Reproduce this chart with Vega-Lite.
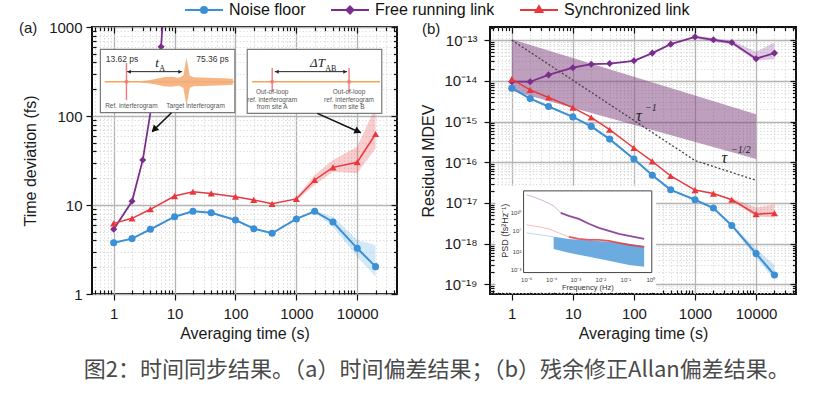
{
"$schema": "https://vega.github.io/schema/vega-lite/v6.json",
"padding": {"left": 18, "top": 2, "right": 4, "bottom": 4},
"bounds": "flush",
"spacing": 93,
"config": {
  "font": "Liberation Sans",
  "view": {"stroke": "#111", "strokeWidth": 2},
  "axis": {"labelFont": "Liberation Sans", "labelFontSize": 15, "labelColor": "#1a1a1a", "titleFont": "Liberation Sans", "titleFontSize": 16, "titleFontWeight": "normal", "titleColor": "#1a1a1a", "domain": false, "tickColor": "#111", "tickWidth": 1.2},
  "title": {"font": "Liberation Sans", "fontWeight": "normal", "fontSize": 15, "color": "#1a1a1a"},
  "text": {"font": "Liberation Sans"}
},
"title": {"text": "图2：时间同步结果。（a）时间偏差结果；（b）残余修正Allan偏差结果。", "orient": "bottom", "anchor": "middle", "font": "Noto Sans CJK SC", "fontSize": 22, "fontWeight": "normal", "color": "#4a4a4a", "offset": 18, "dx": 29},
"datasets": {
  "aLines": [
    {"s":"Noise floor","tau":1,"v":3.77},{"s":"Noise floor","tau":2,"v":4.19},{"s":"Noise floor","tau":4,"v":5.33},{"s":"Noise floor","tau":10,"v":7.39},{"s":"Noise floor","tau":20,"v":8.5},{"s":"Noise floor","tau":40,"v":8.18},{"s":"Noise floor","tau":100,"v":6.78},{"s":"Noise floor","tau":200,"v":5.42},{"s":"Noise floor","tau":400,"v":4.81},{"s":"Noise floor","tau":1000,"v":6.97},{"s":"Noise floor","tau":2000,"v":8.5},{"s":"Noise floor","tau":4000,"v":6.44},{"s":"Noise floor","tau":10000,"v":3.26},{"s":"Noise floor","tau":20000,"v":2.03},
    {"s":"Free running link","tau":1,"v":5.33},{"s":"Free running link","tau":2,"v":11.0},{"s":"Free running link","tau":3,"v":32},{"s":"Free running link","tau":6,"v":600},{"s":"Free running link","tau":10,"v":100000},
    {"s":"Synchronized link","tau":1,"v":6.22},{"s":"Synchronized link","tau":2,"v":7.08},{"s":"Synchronized link","tau":4,"v":8.95},{"s":"Synchronized link","tau":10,"v":12.6},{"s":"Synchronized link","tau":20,"v":14.1},{"s":"Synchronized link","tau":40,"v":13.5},{"s":"Synchronized link","tau":100,"v":12.4},{"s":"Synchronized link","tau":200,"v":11.4},{"s":"Synchronized link","tau":400,"v":10.3},{"s":"Synchronized link","tau":1000,"v":11.7},{"s":"Synchronized link","tau":2000,"v":19.1},{"s":"Synchronized link","tau":4000,"v":26.5},{"s":"Synchronized link","tau":10000,"v":30.2},{"s":"Synchronized link","tau":20000,"v":62.8}
  ],
  "aBand": [
    {"s":"Synchronized link","tau":1000,"lo":11.2,"hi":12.2},{"s":"Synchronized link","tau":2000,"lo":16.8,"hi":21.7},{"s":"Synchronized link","tau":4000,"lo":23.7,"hi":32},{"s":"Synchronized link","tau":10000,"lo":22.7,"hi":45},{"s":"Synchronized link","tau":20000,"lo":43,"hi":126},
    {"s":"Noise floor","tau":2000,"lo":8.3,"hi":8.7},{"s":"Noise floor","tau":4000,"lo":5.7,"hi":7.4},{"s":"Noise floor","tau":10000,"lo":2.6,"hi":4.05},{"s":"Noise floor","tau":20000,"lo":1.56,"hi":3.56}
  ],
  "aBox": [{"x1":0.604,"x2":97.7,"y1":109,"y2":561},{"x1":156,"x2":25300,"y1":107,"y2":561}],
  "aBase": [{"x1":0.711,"x2":94.2,"y":242.9},{"x1":186,"x2":23700,"y":242.9}],
  "aSpike": [{"x":1.62,"y1":151,"y2":394},{"x":401,"y1":186,"y2":346},{"x":7330,"y1":186,"y2":346}],
  "aSpikeDot": [{"x":1.62,"y":242.9},{"x":401,"y":242.9},{"x":7330,"y":242.9}],
  "aBlob": [
    {"x":2.58,"lo":239.8,"hi":246.0},{"x":3.76,"lo":233.6,"hi":252.5},{"x":5.10,"lo":225.0,"hi":262.2},{"x":6.64,"lo":216.4,"hi":272.6},{"x":8.66,"lo":213.6,"hi":276.2},{"x":11.7,"lo":219.2,"hi":269.1},{"x":13.9,"lo":208.2,"hi":283.4},{"x":15.7,"lo":130.4,"hi":452.4},{"x":17.8,"lo":208.2,"hi":283.4},{"x":20.7,"lo":216.4,"hi":272.6},{"x":36.5,"lo":219.2,"hi":269.1},{"x":64.4,"lo":222.1,"hi":265.7},{"x":90.6,"lo":225.0,"hi":262.2}
  ],
  "aSmallLab": [
    {"x":1.95,"y":128,"t":"Ref. interferogram"},{"x":22.1,"y":128,"t":"Target interferogram"},
    {"x":401,"y":187.5,"t":"Out-of-loop"},{"x":401,"y":153,"t":"ref. interferogram"},{"x":401,"y":125,"t":"from site A"},
    {"x":7330,"y":187.5,"t":"Out-of-loop"},{"x":7330,"y":153,"t":"ref. interferogram"},{"x":7330,"y":125,"t":"from site B"}
  ],
  "aPsL": [{"x":0.739,"y":433,"t":"13.62 ps"}],
  "aPsR": [{"x":77.9,"y":433,"t":"75.36 ps"}],
  "aSym": [{"x":5.5,"y":394,"t":"t"},{"x":2953,"y":389,"t":"ΔT"}],
  "aSub": [{"x":5.6,"y":340,"t":"A"},{"x":2980,"y":340,"t":"AB"}],
  "aDbl": [{"x1":1.66,"x2":13.3,"y":315},{"x1":444,"x2":6800,"y":315}],
  "aHeadL": [{"x":1.79,"y":315},{"x":480,"y":315}],
  "aHeadR": [{"x":12.3,"y":315},{"x":6300,"y":315}],
  "aArrow": [{"x1":8.89,"y1":109,"x2":4.27,"y2":66.7},{"x1":2207,"y1":107,"x2":11420,"y2":64.9}],
  "aHead1": [{"x":4.62,"y":70.3}],
  "aHead2": [{"x":10300,"y":67.1}],
  "bLines": [
    {"s":"Noise floor","tau":1,"v":6.6e-15},{"s":"Noise floor","tau":2,"v":3.67e-15},{"s":"Noise floor","tau":4,"v":2.34e-15},{"s":"Noise floor","tau":10,"v":1.3e-15},{"s":"Noise floor","tau":20,"v":7.6e-16},{"s":"Noise floor","tau":40,"v":3.7e-16},{"s":"Noise floor","tau":100,"v":1.2e-16},{"s":"Noise floor","tau":200,"v":4.8e-17},{"s":"Noise floor","tau":400,"v":2.1e-17},{"s":"Noise floor","tau":1000,"v":1.2e-17},{"s":"Noise floor","tau":2000,"v":7.5e-18},{"s":"Noise floor","tau":4000,"v":2.8e-18},{"s":"Noise floor","tau":10000,"v":5.7e-19},{"s":"Noise floor","tau":20000,"v":1.7e-19},
    {"s":"Free running link","tau":1,"v":9.5e-15},{"s":"Free running link","tau":2,"v":9.5e-15},{"s":"Free running link","tau":4,"v":1.4e-14},{"s":"Free running link","tau":10,"v":2.1e-14},{"s":"Free running link","tau":20,"v":2.56e-14},{"s":"Free running link","tau":40,"v":2.66e-14},{"s":"Free running link","tau":100,"v":3.1e-14},{"s":"Free running link","tau":200,"v":4.8e-14},{"s":"Free running link","tau":400,"v":7.96e-14},{"s":"Free running link","tau":1000,"v":1.2e-13},{"s":"Free running link","tau":2000,"v":1.02e-13},{"s":"Free running link","tau":4000,"v":8.7e-14},{"s":"Free running link","tau":10000,"v":3.5e-14},{"s":"Free running link","tau":20000,"v":4.8e-14},
    {"s":"Synchronized link","tau":1,"v":1.1e-14},{"s":"Synchronized link","tau":2,"v":6.0e-15},{"s":"Synchronized link","tau":4,"v":3.9e-15},{"s":"Synchronized link","tau":10,"v":2.2e-15},{"s":"Synchronized link","tau":20,"v":1.26e-15},{"s":"Synchronized link","tau":40,"v":6.3e-16},{"s":"Synchronized link","tau":100,"v":2.24e-16},{"s":"Synchronized link","tau":200,"v":1.05e-16},{"s":"Synchronized link","tau":400,"v":4.6e-17},{"s":"Synchronized link","tau":1000,"v":2.07e-17},{"s":"Synchronized link","tau":2000,"v":1.7e-17},{"s":"Synchronized link","tau":4000,"v":1.2e-17},{"s":"Synchronized link","tau":10000,"v":5.3e-18},{"s":"Synchronized link","tau":20000,"v":5.6e-18}
  ],
  "bBand": [
    {"s":"Free running link","tau":1000,"lo":1.1e-13,"hi":1.3e-13},{"s":"Free running link","tau":2000,"lo":9e-14,"hi":1.12e-13},{"s":"Free running link","tau":4000,"lo":7.8e-14,"hi":9.6e-14},{"s":"Free running link","tau":10000,"lo":3.1e-14,"hi":5.2e-14},{"s":"Free running link","tau":20000,"lo":3.4e-14,"hi":8.7e-14},
    {"s":"Synchronized link","tau":4000,"lo":1.1e-17,"hi":1.3e-17},{"s":"Synchronized link","tau":10000,"lo":4.6e-18,"hi":7.7e-18},{"s":"Synchronized link","tau":20000,"lo":4.4e-18,"hi":9.3e-18},
    {"s":"Noise floor","tau":4000,"lo":2.6e-18,"hi":3.0e-18},{"s":"Noise floor","tau":10000,"lo":4.5e-19,"hi":7.5e-19},{"s":"Noise floor","tau":20000,"lo":1.3e-19,"hi":3.0e-19}
  ],
  "bBig": [{"tau":1,"lo":5.7e-15,"hi":1.05e-13},{"tau":10000,"lo":1.2e-16,"hi":1.5e-15}],
  "bGuide": [{"tau":1,"v":1e-13},{"tau":1000,"v":1.1e-16},{"tau":10000,"v":3.6e-17}],
  "bTau": [{"x":108,"y":1.38e-15,"t":"τ"},{"x":2710,"y":1.28e-16,"t":"τ"}],
  "bTauSup": [{"x":152,"y":2.17e-15,"t":"−1"},{"x":3900,"y":2.02e-16,"t":"−1/2"}],
  "bInsetBg": [{"x1":0.54,"x2":231,"y1":6.2e-20,"y2":2.63e-17}],
  "bInsetFrame": [{"x1":1.56,"x2":196,"y1":1.95e-19,"y2":1.98e-17}],
  "bPsdFaint": [
    {"s":"Free running link","tau":1.75,"v":1.58e-17},{"s":"Free running link","tau":2.27,"v":1.41e-17},{"s":"Free running link","tau":3.32,"v":1.12e-17},{"s":"Free running link","tau":4.85,"v":8.5e-18},{"s":"Free running link","tau":6.32,"v":5.7e-18},
    {"s":"Synchronized link","tau":1.75,"v":2.9e-18},{"s":"Synchronized link","tau":2.75,"v":2.59e-18},{"s":"Synchronized link","tau":4.02,"v":2.31e-18},{"s":"Synchronized link","tau":5.86,"v":1.84e-18},{"s":"Synchronized link","tau":8.57,"v":1.47e-18},
    {"s":"Noise floor","tau":1.75,"v":1.84e-18},{"s":"Noise floor","tau":3.32,"v":1.6e-18},{"s":"Noise floor","tau":4.85,"v":1.47e-18}
  ],
  "bPsdBand": [{"tau":4.85,"lo":7.4e-19,"hi":1.47e-18},{"tau":8.57,"lo":5.94e-19,"hi":1.31e-18},{"tau":18.3,"lo":4.74e-19,"hi":1.2e-18},{"tau":38.9,"lo":3.78e-19,"hi":1.11e-18},{"tau":83,"lo":3.0e-19,"hi":9.9e-19},{"tau":147,"lo":2.7e-19,"hi":8.8e-19}],
  "bPsdDark": [
    {"s":"Synchronized link","tau":8.57,"v":1.47e-18},{"s":"Synchronized link","tau":12.5,"v":1.31e-18},{"s":"Synchronized link","tau":18.3,"v":1.24e-18},{"s":"Synchronized link","tau":26.7,"v":1.24e-18},{"s":"Synchronized link","tau":38.9,"v":1.17e-18},{"s":"Synchronized link","tau":56.9,"v":1.05e-18},{"s":"Synchronized link","tau":83,"v":9.3e-19},{"s":"Synchronized link","tau":147,"v":8.3e-19},
    {"s":"Free running link","tau":6.32,"v":5.7e-18},{"s":"Free running link","tau":8.57,"v":4.8e-18},{"s":"Free running link","tau":12.5,"v":4.07e-18},{"s":"Free running link","tau":18.3,"v":3.08e-18},{"s":"Free running link","tau":26.7,"v":2.45e-18},{"s":"Free running link","tau":38.9,"v":2.07e-18},{"s":"Free running link","tau":56.9,"v":1.74e-18},{"s":"Free running link","tau":83,"v":1.55e-18},{"s":"Free running link","tau":147,"v":1.31e-18}
  ],
  "bInsetXLab": [{"x":1.75,"y":1.29e-19,"t":"10⁻⁵"},{"x":4.5,"y":1.29e-19,"t":"10⁻⁴"},{"x":11.2,"y":1.29e-19,"t":"10⁻³"},{"x":28.8,"y":1.29e-19,"t":"10⁻²"},{"x":74,"y":1.29e-19,"t":"10⁻¹"},{"x":189,"y":1.29e-19,"t":"10⁰"}],
  "bInsetYLab": [{"x":1.44,"y":5.8e-18,"t":"10¹⁰"},{"x":1.44,"y":2.07e-18,"t":"10⁷"},{"x":1.44,"y":6.3e-19,"t":"10²"},{"x":1.44,"y":2.3e-19,"t":"10⁻³"}],
  "bInsetTitle": [{"x":17.6,"y":8.2e-20,"t":"Frequency (Hz)"}],
  "bInsetYTitle": [{"x":0.78,"y":2.07e-18,"t":"PSD (fs²Hz⁻¹)"}]
},
"hconcat": [
{
  "width": 305, "height": 267,
  "title": {"text": "(a)", "anchor": "start", "frame": "group", "orient": "top", "baseline": "alphabetic", "offset": 0, "dx": -73, "dy": 28, "fontSize": 15, "fontWeight": "normal"},
  "layer": [
    {"layer": [
      {"data": {"name": "aBand"}, "transform": [{"filter": "datum.s==='Synchronized link'"}], "mark": {"type": "area", "color": "#e8383d", "opacity": 0.25},
       "encoding": {
         "x": {"field": "tau", "type": "quantitative", "scale": {"type": "log", "domain": [0.44, 45000], "nice": false},
               "axis": {"orient": "bottom", "values": [0.5,0.6,0.7,0.8,0.9,1,2,3,4,5,6,7,8,9,10,20,30,40,50,60,70,80,90,100,200,300,400,500,600,700,800,900,1000,2000,3000,4000,5000,6000,7000,8000,9000,10000,20000,30000,40000],
                        "title": "Averaging time (s)", "labelExpr": "abs(log(datum.value)/LN10-round(log(datum.value)/LN10))<0.01 ? format(datum.value,'d') : ''",
                        "labelOverlap": false, "labelFlush": false, "labelPadding": 6, "titlePadding": 4, "grid": true,
                        "gridColor": {"condition": {"test": "abs(log(datum.value)/LN10-round(log(datum.value)/LN10))<0.01", "value": "#b4b4b4"}, "value": "#d6d6d6"},
                        "gridDash": {"condition": {"test": "abs(log(datum.value)/LN10-round(log(datum.value)/LN10))<0.01", "value": []}, "value": [1.5, 2]},
                        "gridWidth": {"condition": {"test": "abs(log(datum.value)/LN10-round(log(datum.value)/LN10))<0.01", "value": 1.3}, "value": 0.8},
                        "tickSize": {"condition": {"test": "abs(log(datum.value)/LN10-round(log(datum.value)/LN10))<0.01", "value": 6}, "value": -4}}},
         "y": {"field": "lo", "type": "quantitative", "scale": {"type": "log", "domain": [1, 1000], "nice": false},
               "axis": {"orient": "left", "values": [1,2,3,4,5,6,7,8,9,10,20,30,40,50,60,70,80,90,100,200,300,400,500,600,700,800,900,1000],
                        "title": "Time deviation (fs)", "labelExpr": "abs(log(datum.value)/LN10-round(log(datum.value)/LN10))<0.01 ? format(datum.value,'d') : ''",
                        "labelOverlap": false, "labelFlush": false, "labelPadding": 4, "titlePadding": 10, "grid": true,
                        "gridColor": {"condition": {"test": "abs(log(datum.value)/LN10-round(log(datum.value)/LN10))<0.01", "value": "#b4b4b4"}, "value": "#d6d6d6"},
                        "gridDash": {"condition": {"test": "abs(log(datum.value)/LN10-round(log(datum.value)/LN10))<0.01", "value": []}, "value": [1.5, 2]},
                        "gridWidth": {"condition": {"test": "abs(log(datum.value)/LN10-round(log(datum.value)/LN10))<0.01", "value": 1.3}, "value": 0.8},
                        "tickSize": {"condition": {"test": "abs(log(datum.value)/LN10-round(log(datum.value)/LN10))<0.01", "value": 6}, "value": -4}}},
         "y2": {"field": "hi"}
       }},
      {"data": {"name": "aBand"}, "transform": [{"filter": "datum.s==='Noise floor'"}], "mark": {"type": "area", "color": "#3a9ad9", "opacity": 0.22},
       "encoding": {"x": {"field": "tau", "type": "quantitative"}, "y": {"field": "lo", "type": "quantitative"}, "y2": {"field": "hi"}}},
      {"data": {"name": "aLines"}, "mark": {"type": "line", "clip": true},
       "encoding": {
         "x": {"field": "tau", "type": "quantitative"},
         "y": {"field": "v", "type": "quantitative"},
         "color": {"field": "s", "type": "nominal", "scale": {"domain": ["Noise floor", "Free running link", "Synchronized link"], "range": ["#3a8fd5", "#7b2d8e", "#e8383d"]},
                   "legend": {"orient": "none", "legendX": 104, "legendY": -25, "direction": "horizontal", "title": null, "padding": 0,
                              "labelFont": "Liberation Sans", "labelFontSize": 16, "labelColor": "#111", "labelOffset": 17, "columnPadding": 21, "symbolSize": 100, "labelBaseline": "middle",
                              "encode": {"symbols": {"update": {
                                "shape": {"signal": "datum.value==='Noise floor' ? 'M-3.8,0H3.8M0.6,0A0.6,0.6,0,1,1,-0.6,0A0.6,0.6,0,1,1,0.6,0Z' : datum.value==='Free running link' ? 'M-3.8,0H3.8M0,-0.7L0.7,0L0,0.7L-0.7,0Z' : 'M-3.8,0H3.8M0,-0.75L0.68,0.42L-0.68,0.42Z'"},
                                "fill": {"signal": "datum.value==='Noise floor' ? '#3a8fd5' : datum.value==='Free running link' ? '#7b2d8e' : '#e8383d'"},
                                "stroke": {"signal": "datum.value==='Noise floor' ? '#3a8fd5' : datum.value==='Free running link' ? '#7b2d8e' : '#e8383d'"},
                                "strokeWidth": {"value": 2}, "opacity": {"value": 1}}}}}},
         "strokeWidth": {"field": "s", "type": "nominal", "scale": {"domain": ["Synchronized link", "Free running link", "Noise floor"], "range": [1.5, 2, 3]}, "legend": null}
       }},
      {"data": {"name": "aLines"}, "mark": {"type": "point", "filled": true, "clip": true, "size": 50, "opacity": 1},
       "encoding": {
         "x": {"field": "tau", "type": "quantitative"},
         "y": {"field": "v", "type": "quantitative"},
         "fill": {"field": "s", "type": "nominal", "scale": {"domain": ["Synchronized link", "Free running link", "Noise floor"], "range": ["#e8383d", "#7b2d8e", "#3a8fd5"]}, "legend": null},
         "shape": {"field": "s", "type": "nominal", "scale": {"domain": ["Synchronized link", "Free running link", "Noise floor"], "range": ["triangle-up", "diamond", "circle"]}, "legend": null}
       }},
      {"data": {"name": "aBox"}, "mark": {"type": "rect", "fill": "white", "stroke": "#7a7a7a", "strokeWidth": 1.2},
       "encoding": {"x": {"field": "x1", "type": "quantitative"}, "x2": {"field": "x2"}, "y": {"field": "y1", "type": "quantitative"}, "y2": {"field": "y2"}}},
      {"data": {"name": "aBase"}, "mark": {"type": "rule", "color": "#f5a55a", "strokeWidth": 1.5},
       "encoding": {"x": {"field": "x1", "type": "quantitative"}, "x2": {"field": "x2"}, "y": {"field": "y", "type": "quantitative"}}},
      {"data": {"name": "aBlob"}, "mark": {"type": "area", "color": "#f4ad78", "opacity": 0.9},
       "encoding": {"x": {"field": "x", "type": "quantitative"}, "y": {"field": "lo", "type": "quantitative"}, "y2": {"field": "hi"}}},
      {"data": {"name": "aSpike"}, "mark": {"type": "rule", "color": "#f07878", "strokeWidth": 1.4},
       "encoding": {"x": {"field": "x", "type": "quantitative"}, "y": {"field": "y1", "type": "quantitative"}, "y2": {"field": "y2"}}},
      {"data": {"name": "aSpikeDot"}, "mark": {"type": "point", "shape": "circle", "filled": true, "size": 16, "color": "#f07878", "opacity": 0.8},
       "encoding": {"x": {"field": "x", "type": "quantitative"}, "y": {"field": "y", "type": "quantitative"}}},
      {"data": {"name": "aSmallLab"}, "mark": {"type": "text", "fontSize": 6.5, "color": "#555", "align": "center", "baseline": "middle"},
       "encoding": {"x": {"field": "x", "type": "quantitative"}, "y": {"field": "y", "type": "quantitative"}, "text": {"field": "t"}}},
      {"data": {"name": "aPsL"}, "mark": {"type": "text", "fontSize": 8.5, "color": "#333", "align": "left", "baseline": "middle"},
       "encoding": {"x": {"field": "x", "type": "quantitative"}, "y": {"field": "y", "type": "quantitative"}, "text": {"field": "t"}}},
      {"data": {"name": "aPsR"}, "mark": {"type": "text", "fontSize": 8.5, "color": "#333", "align": "right", "baseline": "middle"},
       "encoding": {"x": {"field": "x", "type": "quantitative"}, "y": {"field": "y", "type": "quantitative"}, "text": {"field": "t"}}},
      {"data": {"name": "aSym"}, "mark": {"type": "text", "font": "Liberation Serif", "fontStyle": "italic", "fontSize": 13, "color": "#222", "align": "right", "baseline": "middle"},
       "encoding": {"x": {"field": "x", "type": "quantitative"}, "y": {"field": "y", "type": "quantitative"}, "text": {"field": "t"}}},
      {"data": {"name": "aSub"}, "mark": {"type": "text", "font": "Liberation Serif", "fontSize": 8, "color": "#222", "align": "left", "baseline": "middle"},
       "encoding": {"x": {"field": "x", "type": "quantitative"}, "y": {"field": "y", "type": "quantitative"}, "text": {"field": "t"}}},
      {"data": {"name": "aDbl"}, "mark": {"type": "rule", "color": "#222", "strokeWidth": 1},
       "encoding": {"x": {"field": "x1", "type": "quantitative"}, "x2": {"field": "x2"}, "y": {"field": "y", "type": "quantitative"}}},
      {"data": {"name": "aHeadL"}, "mark": {"type": "point", "shape": "triangle-left", "filled": true, "size": 16, "color": "#222", "opacity": 1},
       "encoding": {"x": {"field": "x", "type": "quantitative"}, "y": {"field": "y", "type": "quantitative"}}},
      {"data": {"name": "aHeadR"}, "mark": {"type": "point", "shape": "triangle-right", "filled": true, "size": 16, "color": "#222", "opacity": 1},
       "encoding": {"x": {"field": "x", "type": "quantitative"}, "y": {"field": "y", "type": "quantitative"}}},
      {"data": {"name": "aArrow"}, "mark": {"type": "rule", "color": "#111", "strokeWidth": 1.5},
       "encoding": {"x": {"field": "x1", "type": "quantitative"}, "y": {"field": "y1", "type": "quantitative"}, "x2": {"field": "x2"}, "y2": {"field": "y2"}}},
      {"data": {"name": "aHead1"}, "mark": {"type": "point", "shape": "triangle-up", "angle": 225, "filled": true, "size": 60, "color": "#111", "opacity": 1},
       "encoding": {"x": {"field": "x", "type": "quantitative"}, "y": {"field": "y", "type": "quantitative"}}},
      {"data": {"name": "aHead2"}, "mark": {"type": "point", "shape": "triangle-up", "angle": 114, "filled": true, "size": 60, "color": "#111", "opacity": 1},
       "encoding": {"x": {"field": "x", "type": "quantitative"}, "y": {"field": "y", "type": "quantitative"}}}
    ]},
    {"data": {"name": "aLines"}, "transform": [{"filter": "datum.v < 1000"}], "mark": {"type": "point", "opacity": 0, "clip": true},
     "encoding": {
       "x": {"field": "tau", "type": "quantitative", "scale": {"type": "log", "domain": [0.44, 45000], "nice": false},
             "axis": {"orient": "top", "values": [0.5,0.6,0.7,0.8,0.9,1,2,3,4,5,6,7,8,9,10,20,30,40,50,60,70,80,90,100,200,300,400,500,600,700,800,900,1000,2000,3000,4000,5000,6000,7000,8000,9000,10000,20000,30000,40000],
                      "labels": false, "title": null, "grid": false, "domain": false,
                      "tickSize": {"condition": {"test": "abs(log(datum.value)/LN10-round(log(datum.value)/LN10))<0.01", "value": -6}, "value": -3.5}}},
       "y": {"field": "v", "type": "quantitative", "scale": {"type": "log", "domain": [1, 1000], "nice": false},
             "axis": {"orient": "right", "values": [1,2,3,4,5,6,7,8,9,10,20,30,40,50,60,70,80,90,100,200,300,400,500,600,700,800,900,1000],
                      "labels": false, "title": null, "grid": false, "domain": false,
                      "tickSize": {"condition": {"test": "abs(log(datum.value)/LN10-round(log(datum.value)/LN10))<0.01", "value": -6}, "value": -3.5}}}
     }}
  ],
  "resolve": {"axis": {"x": "independent", "y": "independent"}}
},
{
  "width": 306, "height": 267,
  "title": {"text": "(b)", "anchor": "start", "frame": "group", "orient": "top", "baseline": "alphabetic", "offset": 0, "dx": -68, "dy": 28, "fontSize": 15, "fontWeight": "normal"},
  "layer": [
    {"layer": [
      {"data": {"name": "bBig"}, "mark": {"type": "area", "color": "#7d3f7d", "opacity": 0.5},
       "encoding": {
         "x": {"field": "tau", "type": "quantitative", "scale": {"type": "log", "domain": [0.44, 45000], "nice": false},
               "axis": {"orient": "bottom", "values": [0.5,0.6,0.7,0.8,0.9,1,2,3,4,5,6,7,8,9,10,20,30,40,50,60,70,80,90,100,200,300,400,500,600,700,800,900,1000,2000,3000,4000,5000,6000,7000,8000,9000,10000,20000,30000,40000],
                        "title": "Averaging time (s)", "labelExpr": "abs(log(datum.value)/LN10-round(log(datum.value)/LN10))<0.01 ? format(datum.value,'d') : ''",
                        "labelOverlap": false, "labelFlush": false, "labelPadding": 6, "titlePadding": 4, "grid": true,
                        "gridColor": {"condition": {"test": "abs(log(datum.value)/LN10-round(log(datum.value)/LN10))<0.01", "value": "#b4b4b4"}, "value": "#d6d6d6"},
                        "gridDash": {"condition": {"test": "abs(log(datum.value)/LN10-round(log(datum.value)/LN10))<0.01", "value": []}, "value": [1.5, 2]},
                        "gridWidth": {"condition": {"test": "abs(log(datum.value)/LN10-round(log(datum.value)/LN10))<0.01", "value": 1.3}, "value": 0.8},
                        "tickSize": {"condition": {"test": "abs(log(datum.value)/LN10-round(log(datum.value)/LN10))<0.01", "value": 6}, "value": -4}}},
         "y": {"field": "lo", "type": "quantitative", "scale": {"type": "log", "domain": [5.8e-20, 2.1e-13], "nice": false},
               "axis": {"orient": "left", "values": [6e-20,7e-20,8e-20,9e-20,1e-19,2e-19,3e-19,4e-19,5e-19,6e-19,7e-19,8e-19,9e-19,1e-18,2e-18,3e-18,4e-18,5e-18,6e-18,7e-18,8e-18,9e-18,1e-17,2e-17,3e-17,4e-17,5e-17,6e-17,7e-17,8e-17,9e-17,1e-16,2e-16,3e-16,4e-16,5e-16,6e-16,7e-16,8e-16,9e-16,1e-15,2e-15,3e-15,4e-15,5e-15,6e-15,7e-15,8e-15,9e-15,1e-14,2e-14,3e-14,4e-14,5e-14,6e-14,7e-14,8e-14,9e-14,1e-13,2e-13],
                        "title": "Residual MDEV", "labelExpr": "abs(log(datum.value)/LN10-round(log(datum.value)/LN10))<0.01 ? '10⁻¹' + ['⁰','¹','²','³','⁴','⁵','⁶','⁷','⁸','⁹'][-round(log(datum.value)/LN10)-10] : ''",
                        "labelOverlap": false, "labelFlush": false, "labelPadding": 7, "titlePadding": 7, "grid": true,
                        "gridColor": {"condition": {"test": "abs(log(datum.value)/LN10-round(log(datum.value)/LN10))<0.01", "value": "#b4b4b4"}, "value": "#d6d6d6"},
                        "gridDash": {"condition": {"test": "abs(log(datum.value)/LN10-round(log(datum.value)/LN10))<0.01", "value": []}, "value": [1.5, 2]},
                        "gridWidth": {"condition": {"test": "abs(log(datum.value)/LN10-round(log(datum.value)/LN10))<0.01", "value": 1.3}, "value": 0.8},
                        "tickSize": {"condition": {"test": "abs(log(datum.value)/LN10-round(log(datum.value)/LN10))<0.01", "value": 6}, "value": -4}}},
         "y2": {"field": "hi"}
       }},
      {"data": {"name": "bGuide"}, "mark": {"type": "line", "color": "#444", "strokeDash": [2, 2], "strokeWidth": 1.3},
       "encoding": {"x": {"field": "tau", "type": "quantitative"}, "y": {"field": "v", "type": "quantitative"}}},
      {"data": {"name": "bBand"}, "mark": {"type": "area", "opacity": 0.25},
       "encoding": {"x": {"field": "tau", "type": "quantitative"}, "y": {"field": "lo", "type": "quantitative"}, "y2": {"field": "hi"},
                    "fill": {"field": "s", "type": "nominal", "legend": null}}},
      {"data": {"name": "bLines"}, "mark": {"type": "line"},
       "encoding": {"x": {"field": "tau", "type": "quantitative"}, "y": {"field": "v", "type": "quantitative"},
                    "stroke": {"field": "s", "type": "nominal", "scale": {"domain": ["Synchronized link", "Free running link", "Noise floor"], "range": ["#e8383d", "#7b2d8e", "#3a8fd5"]}, "legend": null},
                    "strokeWidth": {"field": "s", "type": "nominal", "legend": null}}},
      {"data": {"name": "bLines"}, "mark": {"type": "point", "filled": true, "size": 50, "opacity": 1},
       "encoding": {"x": {"field": "tau", "type": "quantitative"}, "y": {"field": "v", "type": "quantitative"},
                    "fill": {"field": "s", "type": "nominal", "legend": null},
                    "shape": {"field": "s", "type": "nominal", "legend": null}}},
      {"data": {"name": "bTau"}, "mark": {"type": "text", "font": "Liberation Serif", "fontStyle": "italic", "fontSize": 16, "color": "#222", "align": "left", "baseline": "middle"},
       "encoding": {"x": {"field": "x", "type": "quantitative"}, "y": {"field": "y", "type": "quantitative"}, "text": {"field": "t"}}},
      {"data": {"name": "bTauSup"}, "mark": {"type": "text", "font": "Liberation Serif", "fontStyle": "italic", "fontSize": 10, "color": "#222", "align": "left", "baseline": "middle"},
       "encoding": {"x": {"field": "x", "type": "quantitative"}, "y": {"field": "y", "type": "quantitative"}, "text": {"field": "t"}}},
      {"data": {"name": "bInsetBg"}, "mark": {"type": "rect", "fill": "white", "strokeWidth": 0},
       "encoding": {"x": {"field": "x1", "type": "quantitative"}, "x2": {"field": "x2"}, "y": {"field": "y1", "type": "quantitative"}, "y2": {"field": "y2"}}},
      {"data": {"name": "bPsdFaint"}, "mark": {"type": "line", "strokeWidth": 1, "opacity": 0.35},
       "encoding": {"x": {"field": "tau", "type": "quantitative"}, "y": {"field": "v", "type": "quantitative"}, "stroke": {"field": "s", "type": "nominal", "legend": null}}},
      {"data": {"name": "bPsdBand"}, "mark": {"type": "area", "color": "#3a8fd5", "opacity": 0.75},
       "encoding": {"x": {"field": "tau", "type": "quantitative"}, "y": {"field": "lo", "type": "quantitative"}, "y2": {"field": "hi"}}},
      {"data": {"name": "bPsdDark"}, "mark": {"type": "line", "strokeWidth": 1.8, "opacity": 0.85},
       "encoding": {"x": {"field": "tau", "type": "quantitative"}, "y": {"field": "v", "type": "quantitative"}, "stroke": {"field": "s", "type": "nominal", "legend": null}}},
      {"data": {"name": "bInsetFrame"}, "mark": {"type": "rect", "fillOpacity": 0, "stroke": "#444", "strokeWidth": 1},
       "encoding": {"x": {"field": "x1", "type": "quantitative"}, "x2": {"field": "x2"}, "y": {"field": "y1", "type": "quantitative"}, "y2": {"field": "y2"}}},
      {"data": {"name": "bInsetXLab"}, "mark": {"type": "text", "fontSize": 6, "color": "#444", "align": "center", "baseline": "middle"},
       "encoding": {"x": {"field": "x", "type": "quantitative"}, "y": {"field": "y", "type": "quantitative"}, "text": {"field": "t"}}},
      {"data": {"name": "bInsetYLab"}, "mark": {"type": "text", "fontSize": 6, "color": "#444", "align": "right", "baseline": "middle"},
       "encoding": {"x": {"field": "x", "type": "quantitative"}, "y": {"field": "y", "type": "quantitative"}, "text": {"field": "t"}}},
      {"data": {"name": "bInsetTitle"}, "mark": {"type": "text", "fontSize": 7.5, "color": "#333", "align": "center", "baseline": "middle"},
       "encoding": {"x": {"field": "x", "type": "quantitative"}, "y": {"field": "y", "type": "quantitative"}, "text": {"field": "t"}}},
      {"data": {"name": "bInsetYTitle"}, "mark": {"type": "text", "fontSize": 9, "color": "#333", "align": "center", "baseline": "middle", "angle": 270},
       "encoding": {"x": {"field": "x", "type": "quantitative"}, "y": {"field": "y", "type": "quantitative"}, "text": {"field": "t"}}}
    ]},
    {"data": {"name": "bLines"}, "mark": {"type": "point", "opacity": 0, "clip": true},
     "encoding": {
       "x": {"field": "tau", "type": "quantitative", "scale": {"type": "log", "domain": [0.44, 45000], "nice": false},
             "axis": {"orient": "top", "values": [0.5,0.6,0.7,0.8,0.9,1,2,3,4,5,6,7,8,9,10,20,30,40,50,60,70,80,90,100,200,300,400,500,600,700,800,900,1000,2000,3000,4000,5000,6000,7000,8000,9000,10000,20000,30000,40000],
                      "labels": false, "title": null, "grid": false, "domain": false,
                      "tickSize": {"condition": {"test": "abs(log(datum.value)/LN10-round(log(datum.value)/LN10))<0.01", "value": -6}, "value": -3.5}}},
       "y": {"field": "v", "type": "quantitative", "scale": {"type": "log", "domain": [5.8e-20, 2.1e-13], "nice": false},
             "axis": {"orient": "right", "values": [6e-20,7e-20,8e-20,9e-20,1e-19,2e-19,3e-19,4e-19,5e-19,6e-19,7e-19,8e-19,9e-19,1e-18,2e-18,3e-18,4e-18,5e-18,6e-18,7e-18,8e-18,9e-18,1e-17,2e-17,3e-17,4e-17,5e-17,6e-17,7e-17,8e-17,9e-17,1e-16,2e-16,3e-16,4e-16,5e-16,6e-16,7e-16,8e-16,9e-16,1e-15,2e-15,3e-15,4e-15,5e-15,6e-15,7e-15,8e-15,9e-15,1e-14,2e-14,3e-14,4e-14,5e-14,6e-14,7e-14,8e-14,9e-14,1e-13,2e-13],
                      "labels": false, "title": null, "grid": false, "domain": false,
                      "tickSize": {"condition": {"test": "abs(log(datum.value)/LN10-round(log(datum.value)/LN10))<0.01", "value": -6}, "value": -3.5}}}
     }}
  ],
  "resolve": {"axis": {"x": "independent", "y": "independent"}}
}
]
}
